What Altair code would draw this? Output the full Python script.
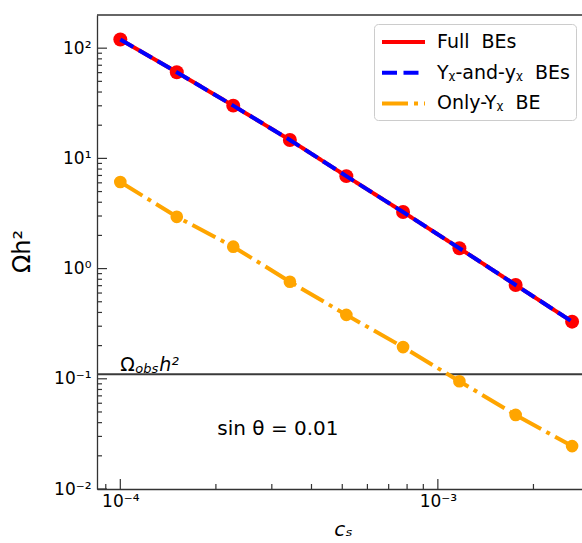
import altair as alt
import pandas as pd

# ---- data ----
cs = [1.0e-4, 1.506e-4, 2.268e-4, 3.42e-4, 5.15e-4, 7.77e-4, 1.169e-3, 1.758e-3, 2.647e-3]
full_bes = [120, 60.5, 30.1, 14.7, 6.9, 3.26, 1.53, 0.71, 0.33]
yy_bes = [120, 60.5, 30.1, 14.7, 6.9, 3.26, 1.53, 0.71, 0.33]
only_bes = [6.1, 2.95, 1.58, 0.76, 0.38, 0.194, 0.095, 0.047, 0.0245]
omega_obs = 0.11

NB = "\u00a0"
series_names = ["Full" + NB + NB + "BEs", "Y\u1d6a-and-y\u1d6a" + NB + NB + "BEs", "Only-Y\u1d6a" + NB + NB + "BE"]
series_colors = ["#ff0000", "#0000ff", "#ffa500"]
series_dash = [[1, 0], [15, 6.5], [26, 6, 4, 6]]

x_major = [1e-4, 1e-3]
x_major_labels = ["10\u207b\u2074", "10\u207b\u00b3"]
x_minor = [9e-5, 2e-4, 3e-4, 4e-4, 5e-4, 6e-4, 7e-4, 8e-4, 9e-4, 2e-3]
y_major = [1e-2, 1e-1, 1, 10, 100]
y_major_labels = ["10\u207b\u00b2", "10\u207b\u00b9", "10\u2070", "10\u00b9", "10\u00b2"]
y_minor = [m * d for d in [1e-2, 1e-1, 1, 10] for m in range(2, 10)]

X_DOMAIN = [8.445e-5, 2.844e-3]
Y_DOMAIN = [1e-2, 200]
W, H = 485, 474
FONT = "DejaVu Sans"


def label_expr(vals, labels):
    expr = "''"
    for v, t in reversed(list(zip(vals, labels))):
        expr = f"abs(datum.value - {v}) < {v * 1e-6} ? '{t}' : ({expr})"
    return expr


xs = alt.Scale(type="log", domain=X_DOMAIN, nice=False)
ys = alt.Scale(type="log", domain=Y_DOMAIN, nice=False)
cscale = alt.Scale(domain=series_names, range=series_colors)
dscale = alt.Scale(domain=series_names, range=series_dash)

rows = []
for name, vals in zip(series_names, [full_bes, yy_bes, only_bes]):
    for c, v in zip(cs, vals):
        rows.append({"series": name, "cs": c, "val": v})
df = pd.DataFrame(rows)

legend = alt.Legend(
    title=None, orient="none", legendX=277, legendY=9,
    symbolType="M-1,0H3.3", symbolSize=400, symbolStrokeWidth=4,
    labelFontSize=19, labelFont=FONT, labelColor="black", labelOffset=33,
    padding=6, rowPadding=8.7, fillColor="white", strokeColor="#cccccc",
    cornerRadius=4, symbolOpacity=1,
)

xaxis = alt.Axis(
    values=x_major, labelExpr=label_expr(x_major, x_major_labels), ticks=False,
    grid=False, title="c\u209b", titleFontStyle="italic", titleFontWeight="normal",
    titleFontSize=20, titleFont=FONT, titleColor="black", titleX=246, titleY=46,
    titleBaseline="alphabetic", titleAlign="center", labelPadding=4,
    labelFontSize=17, labelFont=FONT, labelColor="black", labelBaseline="top",
    domainColor="#333333", domainWidth=1.3, labelFlush=False,
)
yaxis = alt.Axis(
    values=y_major, labelExpr=label_expr(y_major, y_major_labels), ticks=False,
    grid=False, title="\u03a9h\u00b2", titleFontWeight="normal", titleFontSize=24,
    titleFont=FONT, titleColor="black", titleX=-75, titleY=236, titleAngle=270,
    titleAlign="center", titleBaseline="middle", labelPadding=6, labelFontSize=17,
    labelFont=FONT, labelColor="black", domainColor="#333333", domainWidth=1.3,
    labelFlush=False,
)

X = lambda: alt.X("cs:Q", scale=xs, axis=xaxis)
Y = lambda: alt.Y("val:Q", scale=ys, axis=yaxis)


def enc_line(sub):
    return alt.Chart(sub).mark_line(strokeWidth=4).encode(
        x=X(), y=Y(),
        color=alt.Color("series:N", scale=cscale, legend=legend),
        strokeDash=alt.StrokeDash("series:N", scale=dscale, legend=legend),
    )


obs_line = alt.Chart(pd.DataFrame({"val": [omega_obs]})).mark_rule(
    color="#3a3a3a", strokeWidth=1.8
).encode(y=Y())

red_line = enc_line(df[df.series == series_names[0]])
red_pts = alt.Chart(df[df.series == series_names[0]]).mark_circle(
    size=195, opacity=1, color="#ff0000"
).encode(x=X(), y=Y())
blue_line = enc_line(df[df.series == series_names[1]])
orange_line = enc_line(df[df.series == series_names[2]])
orange_pts = alt.Chart(df[df.series == series_names[2]]).mark_circle(
    size=160, opacity=1, color="#ffa500"
).encode(x=X(), y=Y())


# inward ticks
def yticks(vals, length):
    return alt.Chart(pd.DataFrame({"val": vals})).mark_rule(color="#333333", strokeWidth=1.2).encode(
        y=Y(), x=alt.value(0), x2=alt.value(length))


def xticks(vals, length):
    return alt.Chart(pd.DataFrame({"cs": vals})).mark_rule(color="#333333", strokeWidth=1.2).encode(
        x=X(), y=alt.value(H), y2=alt.value(H - length))


top_spine = alt.Chart(pd.DataFrame({"k": [0]})).mark_rule(color="#333333", strokeWidth=1.3).encode(
    x=alt.value(0), x2=alt.value(W), y=alt.value(0))

ann = pd.DataFrame({"cs": [1e-4], "val": [omega_obs]})
t_omega = alt.Chart(ann).mark_text(text="\u03a9", font=FONT, fontSize=19, align="left",
                                   baseline="alphabetic", dy=-3, color="black").encode(x=X(), y=Y())
t_obs = alt.Chart(ann).mark_text(text="obs", font=FONT, fontSize=13, fontStyle="italic",
                                 align="left", baseline="alphabetic", dx=15, dy=-1,
                                 color="black").encode(x=X(), y=Y())
t_h2 = alt.Chart(ann).mark_text(text="h\u00b2", font=FONT, fontSize=19, fontStyle="italic",
                                align="left", baseline="alphabetic", dx=39, dy=-3,
                                color="black").encode(x=X(), y=Y())

sin_df = pd.DataFrame({"cs": [2.02e-4], "val": [0.0306]})
t_sin = alt.Chart(sin_df).mark_text(text="sin \u03b8 = 0.01", font=FONT, fontSize=20,
                                    align="left", baseline="alphabetic", color="black").encode(x=X(), y=Y())

chart = alt.layer(
    obs_line, red_line, red_pts, blue_line, orange_line, orange_pts,
    yticks(y_major, 10), yticks(y_minor, 5), xticks(x_major, 10), xticks(x_minor, 5),
    top_spine, t_omega, t_obs, t_h2, t_sin,
).properties(
    width=W, height=H, autosize="none",
    padding={"left": 97, "top": 15, "right": 0, "bottom": 54},
    background="white",
).configure_view(stroke=None)

chart.save("out.html", embed_options={"renderer": "svg", "actions": False})
